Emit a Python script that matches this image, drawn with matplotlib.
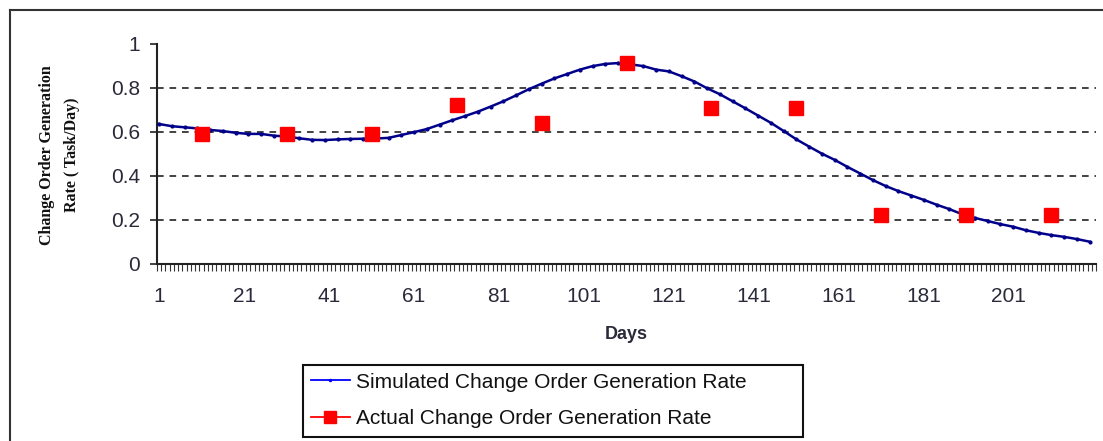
import matplotlib
matplotlib.use("Agg")
import matplotlib.pyplot as plt
from matplotlib.lines import Line2D
from matplotlib.patches import Rectangle
import numpy as np

# Simulated series (read every 3 days)
sim_days = list(range(1, 221, 3))
sim_vals = [0.635, 0.625, 0.620, 0.615, 0.608, 0.603, 0.595, 0.590, 0.590, 0.582,
            0.578, 0.570, 0.563, 0.562, 0.565, 0.567, 0.568, 0.569, 0.572, 0.585,
            0.598, 0.612, 0.632, 0.652, 0.671, 0.691, 0.714, 0.738, 0.765, 0.793,
            0.818, 0.842, 0.862, 0.882, 0.898, 0.908, 0.912, 0.906, 0.898, 0.882,
            0.874, 0.852, 0.828, 0.797, 0.770, 0.738, 0.706, 0.673, 0.640, 0.603,
            0.565, 0.532, 0.500, 0.472, 0.440, 0.410, 0.380, 0.353, 0.330, 0.310,
            0.290, 0.268, 0.248, 0.225, 0.208, 0.194, 0.180, 0.168, 0.152, 0.140,
            0.130, 0.122, 0.112, 0.100]
# Actual observations
act_days = [11, 31, 51, 71, 91, 111, 131, 151, 171, 191, 211]
act_vals = [0.59, 0.59, 0.59, 0.72, 0.64, 0.91, 0.71, 0.71, 0.22, 0.22, 0.22]

x_tick_labels = ['1', '21', '41', '61', '81', '101', '121', '141', '161', '181', '201']
y_ticks = [0, 0.2, 0.4, 0.6, 0.8, 1.0]
y_tick_labels = ['0', '0.2', '0.4', '0.6', '0.8', '1']
n_days = 221

W, H = 1103, 441
fig = plt.figure(figsize=(W / 100, H / 100), dpi=100)
ax = fig.add_axes([157 / W, (H - 263.7) / H, 939 / W, 220 / H])

txt_col = '#2a2a3a'
navy = '#00008B'

ax.plot(sim_days, sim_vals, color=navy, lw=1.8, marker='.', ms=4, zorder=3)
ax.plot(act_days, act_vals, ls='none', marker='s', ms=9.5, color='#ff0000',
        markeredgecolor='#ff0000', zorder=4)

ax.set_xlim(0.5, n_days + 0.5)
ax.set_ylim(0, 1)

for v in y_ticks[1:-1]:
    ax.axhline(v, color='#222222', lw=1.2, ls=(0, (4, 3.5)), zorder=1)

for s in ['top', 'right']:
    ax.spines[s].set_visible(False)
for s in ['left', 'bottom']:
    ax.spines[s].set_color('#222222')
    ax.spines[s].set_linewidth(1.5)

ax.set_yticks(y_ticks)
ax.set_yticklabels(y_tick_labels, fontsize=15, family='Liberation Sans', color=txt_col)
ax.tick_params(axis='y', length=5, width=1.2, color='#222222', pad=7)

ax.set_xticks([int(t) for t in x_tick_labels])
ax.set_xticklabels(x_tick_labels, fontsize=15, family='Liberation Sans', color=txt_col)
ax.set_xticks(np.arange(0.5, n_days + 1, 1), minor=True)
ax.tick_params(axis='x', which='major', length=0, pad=17)
ax.tick_params(axis='x', which='minor', length=5, width=0.8, color='#333333')

ax.set_xlabel('Days', fontsize=13, fontweight='bold', family='Liberation Sans',
              color=txt_col, labelpad=14)

fig.text(60 / W, 1 - 155 / H, 'Change Order Generation\nRate ( Task/Day)',
         rotation=90, ha='center', va='center', fontsize=11.5, fontweight='bold',
         family='Liberation Serif', linespacing=1.75, color='#111111')

handles = [Line2D([], [], color='#0000ff', lw=1.3, marker='.', ms=3),
           Line2D([], [], color='#ff0000', lw=1.3, marker='s', ms=9)]
leg = fig.legend(handles, ['Simulated Change Order Generation Rate',
                           'Actual Change Order Generation Rate'],
                 loc='center left', bbox_to_anchor=(311 / W, 1 - 400.5 / H),
                 prop={'family': 'Liberation Sans', 'size': 15},
                 frameon=False, borderpad=0, borderaxespad=0,
                 handlelength=1.85, handletextpad=0.3, labelspacing=0.85)
for t in leg.get_texts():
    t.set_color('#111111')
fig.add_artist(Rectangle((303 / W, 1 - 437 / H), 500 / W, 72 / H,
                         transform=fig.transFigure, fill=False,
                         edgecolor='#111111', lw=1.5))

# outer border
fig.add_artist(Line2D([10 / W, 10 / W], [0, 1 - 10 / H], color='#333333', lw=1.5,
                      transform=fig.transFigure))
fig.add_artist(Line2D([10 / W, 1], [1 - 10 / H, 1 - 10 / H], color='#333333', lw=1.5,
                      transform=fig.transFigure))

fig.savefig('out.png', dpi=100)
